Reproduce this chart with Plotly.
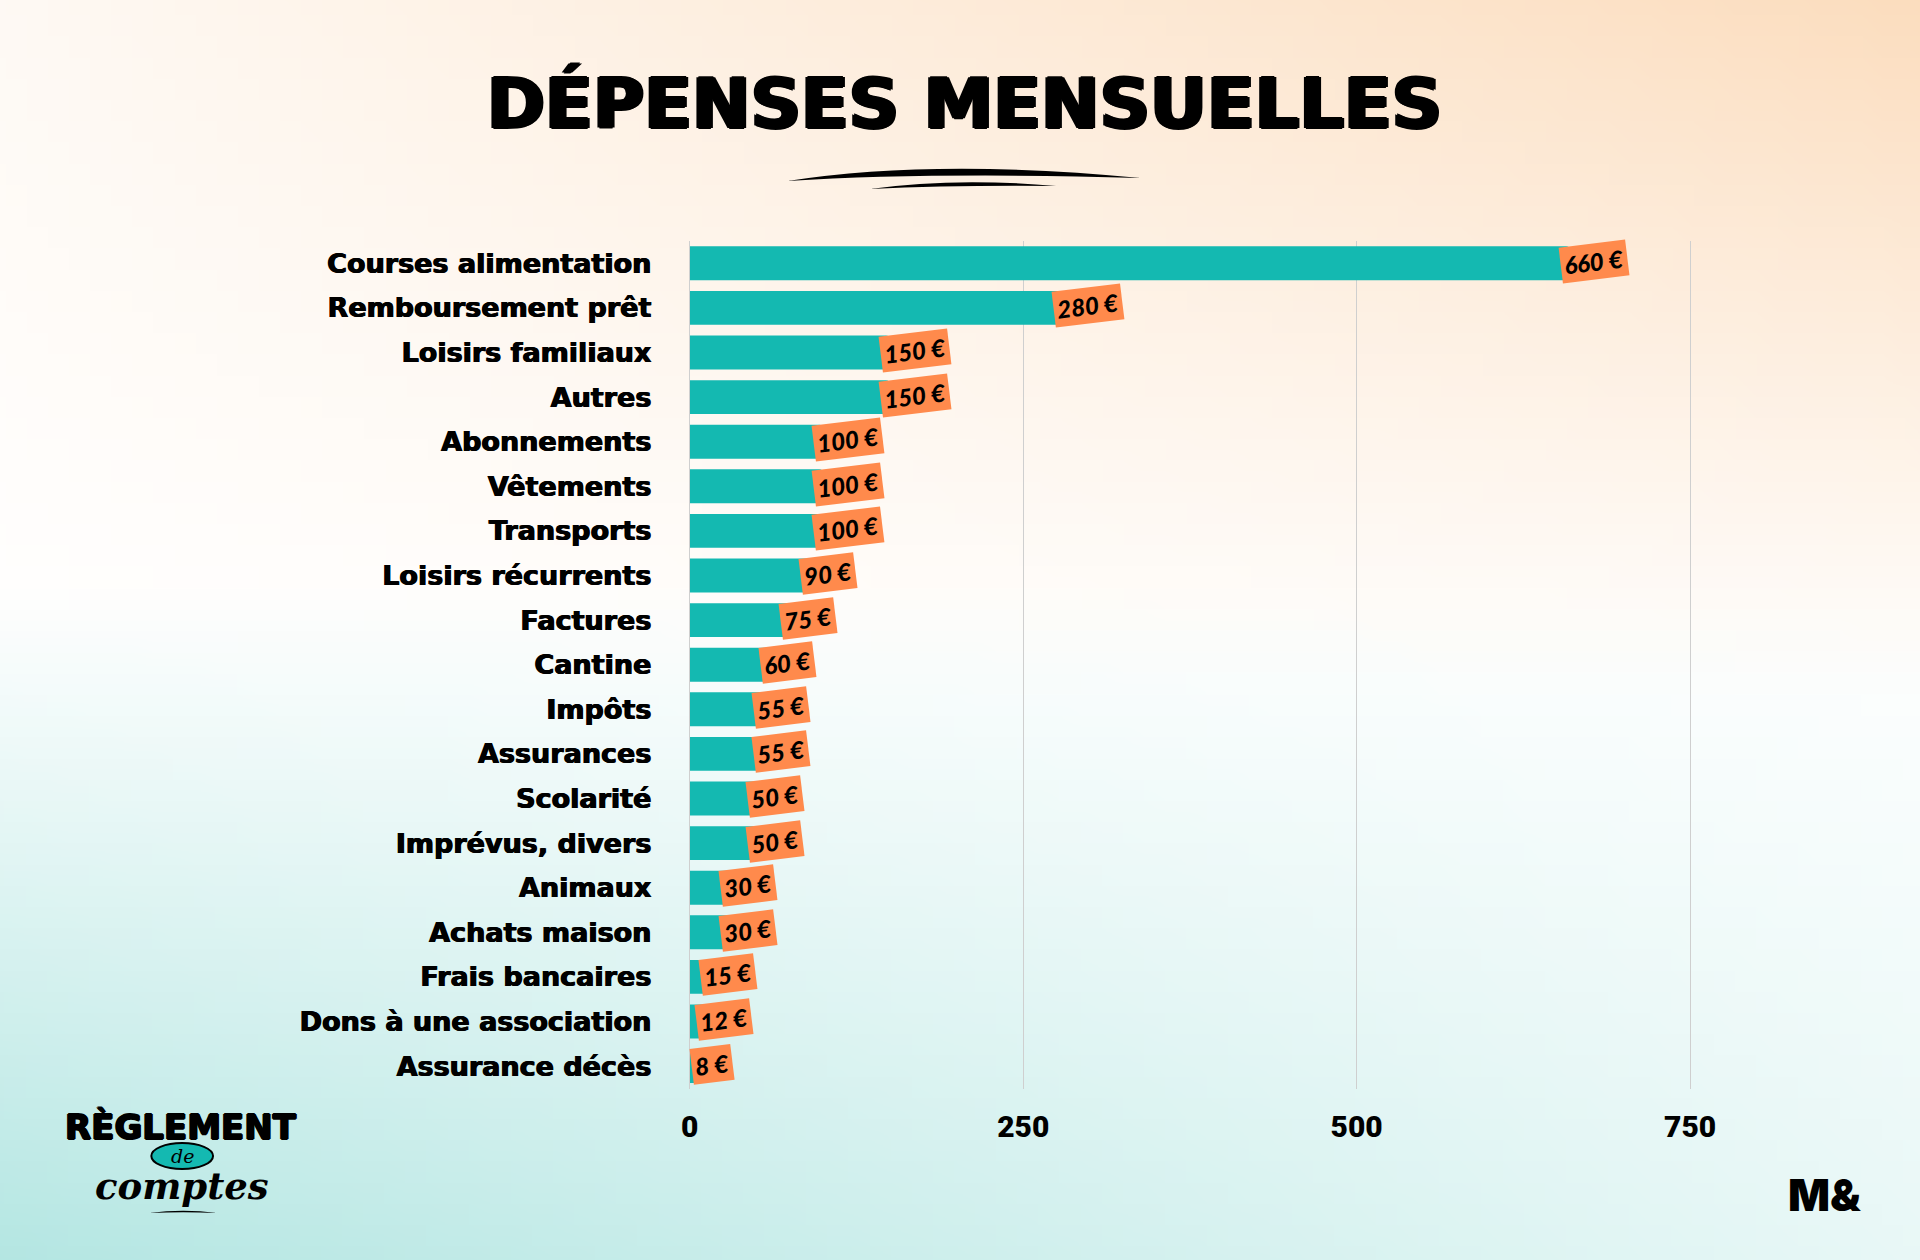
import base64
import struct
import zlib

import plotly.graph_objects as go

# ---------------- data ----------------
categories = [
    "Courses alimentation", "Remboursement prêt", "Loisirs familiaux", "Autres",
    "Abonnements", "Vêtements", "Transports", "Loisirs récurrents", "Factures",
    "Cantine", "Impôts", "Assurances", "Scolarité", "Imprévus, divers", "Animaux",
    "Achats maison", "Frais bancaires", "Dons à une association", "Assurance décès",
]
values = [660, 280, 150, 150, 100, 100, 100, 90, 75, 60, 55, 55, 50, 50, 30, 30, 15, 12, 8]
tick_values = [0, 250, 500, 750]
tick_labels = ["0", "250", "500", "750"]

TITLE = "DÉPENSES MENSUELLES"

# ---------------- style ----------------
W, H = 1920, 1260
TEAL = "#14B9B1"
ORANGE = "#FF8A4C"
GRID = "#CFCFCF"
HEAVY = "1px 0 0 black, -1px 0 0 black, 0 1px 0 black, 0 -1px 0 black"
SEMI = "0.6px 0 0 black, -0.6px 0 0 black"


def px(x):
    return x / W


def py(y):
    return 1 - y / H


# ---------------- gradient background (generated PNG) ----------------
def gradient_png(w, h):
    P = (251, 219, 186)
    T = (176, 229, 225)
    rows = []
    for j in range(h):
        v = j / (h - 1)
        row = bytearray([0])
        for i in range(w):
            u = i / (w - 1)
            p = max(0.0, min(1.0, (0.55 - v) / 0.55)) * (0.15 + 0.85 * u)
            t = max(0.0, min(1.0, (v - 0.47) / 0.53)) * (1 - 0.72 * u)
            wgt = max(0.0, 1 - p - t)
            col = [int(round(255 * wgt + P[k] * p + T[k] * t)) for k in range(3)]
            row.extend(col)
        rows.append(bytes(row))
    raw = b"".join(rows)

    def chunk(tag, data):
        c = struct.pack(">I", len(data)) + tag + data
        return c + struct.pack(">I", zlib.crc32(tag + data) & 0xFFFFFFFF)

    png = b"\x89PNG\r\n\x1a\n"
    png += chunk(b"IHDR", struct.pack(">IIBBBBB", w, h, 8, 2, 0, 0, 0))
    png += chunk(b"IDAT", zlib.compress(raw, 9))
    png += chunk(b"IEND", b"")
    return "data:image/png;base64," + base64.b64encode(png).decode()


bg = gradient_png(96, 63)

# ---------------- figure ----------------
fig = go.Figure()
fig.add_trace(go.Bar(
    x=values, y=categories, orientation="h",
    marker=dict(color=TEAL, line=dict(width=0), cornerradius=4),
    hoverinfo="skip",
))

annotations = []
for c, v in zip(categories, values):
    annotations.append(dict(
        x=v, y=c, xref="x", yref="y", text=f"{v} €", showarrow=False,
        xanchor="left", yanchor="middle", xshift=-12, yshift=2, textangle=-7,
        bgcolor=ORANGE, borderpad=3,
        font=dict(family="Lato", size=24, color="black", weight=900, style="italic"),
    ))

# title
annotations.append(dict(
    x=0.5, y=py(104), xref="paper", yref="paper", text=TITLE, showarrow=False,
    xanchor="center", yanchor="middle",
    font=dict(family="DejaVu Sans", size=70, color="black", weight=900,
              shadow="2px 0 0 black, -2px 0 0 black, 0 1px 0 black, 0 -1px 0 black"),
))

# logo bottom-left
annotations.append(dict(
    x=px(173), y=py(1127), xref="paper", yref="paper", text="RÈGLEMENT", showarrow=False,
    xanchor="center", yanchor="middle",
    font=dict(family="DejaVu Sans", size=34, color="black", weight=900, shadow=HEAVY),
))
annotations.append(dict(
    x=px(174), y=py(1186), xref="paper", yref="paper", text="comptes", showarrow=False,
    xanchor="center", yanchor="middle",
    font=dict(family="DejaVu Serif", size=37, color="black", weight=700, style="italic"),
))
annotations.append(dict(
    x=px(174), y=py(1156), xref="paper", yref="paper", text="de", showarrow=False,
    xanchor="center", yanchor="middle",
    font=dict(family="DejaVu Serif", size=19, color="black", style="italic"),
))
# logo bottom-right
annotations.append(dict(
    x=px(1824), y=py(1195), xref="paper", yref="paper", text="M&", showarrow=False,
    xanchor="center", yanchor="middle",
    font=dict(family="Inter", size=44, color="black", weight=900),
))


def stroke(x0, y0, xm, ym, x1, y1, thick):
    # tapered brush stroke, pixel coords -> paper
    return dict(
        type="path", xref="paper", yref="paper", layer="above",
        path=(f"M {px(x0)},{py(y0)} Q {px(xm)},{py(ym - thick)} {px(x1)},{py(y1)} "
              f"Q {px(xm)},{py(ym + thick)} {px(x0)},{py(y0)} Z"),
        fillcolor="black", line=dict(width=0),
    )


shapes = [
    stroke(782, 181, 930, 165, 1137, 178, 7),
    stroke(865, 189, 950, 181, 1052, 186, 4),
    stroke(141, 1213, 175, 1210, 209, 1213, 1.5),
    dict(type="circle", xref="paper", yref="paper", layer="below",
         x0=px(143), x1=px(205), y0=py(1169), y1=py(1143),
         fillcolor=TEAL, line=dict(color="black", width=2)),
]

fig.update_layout(
    width=W, height=H,
    margin=dict(l=0, r=0, t=0, b=0),
    paper_bgcolor="#F3FAF8", plot_bgcolor="rgba(0,0,0,0)",
    showlegend=False, bargap=0.24,
    images=[dict(source=bg, xref="paper", yref="paper", x=-0.03, y=1.03,
                 sizex=1.06, sizey=1.06,
                 sizing="stretch", xanchor="left", yanchor="top", layer="below")],
    xaxis=dict(
        domain=[px(684), px(1756)], range=[0, 800],
        tickvals=tick_values, ticktext=tick_labels,
        showgrid=True, gridcolor=GRID, gridwidth=1, zeroline=False,
        showline=False, ticks="", ticklabelstandoff=17,
        tickfont=dict(family="Roboto", size=30, color="black", weight=900),
        fixedrange=True,
    ),
    yaxis=dict(
        domain=[py(1089), py(241)], autorange="reversed",
        showgrid=False, zeroline=False, showline=True, linecolor=GRID, linewidth=1,
        ticks="", ticklabelstandoff=32,
        tickfont=dict(family="DejaVu Sans", size=27, color="black", weight=700, shadow=SEMI),
        fixedrange=True,
    ),
    annotations=annotations,
    shapes=shapes,
)

fig.write_html(
    "out.html",
    config={"displayModeBar": False},
    post_script=(
        "document.documentElement.style.margin='0';"
        "document.body.style.margin='0';document.body.style.padding='0';"
        "document.body.style.background='#F3FAF8';"
        "var gd=document.getElementById('{plot_id}');"
        "gd.style.position='fixed';gd.style.left='0px';gd.style.top='0px';"
    ),
)
